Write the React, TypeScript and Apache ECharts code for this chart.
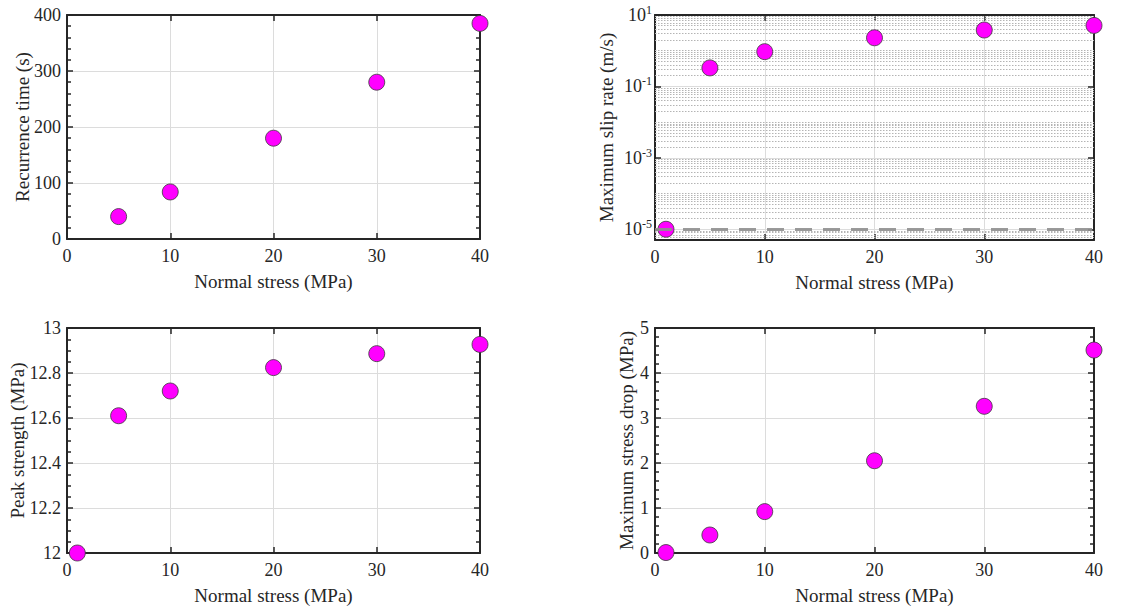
import { useEffect, useRef } from 'react';
import * as echarts from 'echarts';

// ---- data ----
const stressRecurrence = [5, 10, 20, 30, 40];
const recurrenceTime = [40, 84, 180, 280, 385];
const stressAll = [1, 5, 10, 20, 30, 40];
const maxSlipRate = [1e-5, 0.33, 0.94, 2.3, 3.8, 5.1];
const peakStrength = [12.0, 12.61, 12.72, 12.824, 12.886, 12.927];
const maxStressDrop = [0.01, 0.4, 0.92, 2.05, 3.26, 4.51];
const logMajorTicks = [1e-5, 1e-3, 1e-1, 10];
const logDecades = [-6, -5, -4, -3, -2, -1, 0];
const logMantissas = [1, 2, 3, 4, 5, 6, 7, 8, 9];
const backgroundSlipRate = 1e-5;

const FONT = '"Liberation Serif", "Times New Roman", serif';
const AX = '#262626';
const GRIDC = '#dcdcdc';

const LOG_MIN = 5e-6;
const LOG_MAX = 10;

const minorLogValues: number[] = [];
logDecades.forEach((d) => {
  logMantissas.forEach((m) => {
    const v = m * Math.pow(10, d);
    const isMajor = logMajorTicks.some((t) => Math.abs(t - v) / t < 1e-9);
    if (v > LOG_MIN * 1.0001 && v < LOG_MAX * 0.9999 && !isMajor) minorLogValues.push(v);
  });
});

const axisLine = { show: true, onZero: false, lineStyle: { color: AX, width: 2 } };
const axisTick = { show: true, inside: true, length: 6, lineStyle: { color: AX, width: 1.5 } };
const labelStyle = { color: AX, fontFamily: FONT, fontSize: 18 };
const nameStyle = { color: AX, fontFamily: FONT, fontSize: 19 };

function xAxesFor(gridIndex: number) {
  return [
    {
      type: 'value', gridIndex, min: 0, max: 40, interval: 10, position: 'bottom',
      axisLine, axisTick,
      axisLabel: { ...labelStyle, margin: 8 },
      splitLine: { show: true, lineStyle: { color: GRIDC, width: 1 } },
      name: 'Normal stress (MPa)', nameLocation: 'middle', nameGap: 33,
      nameTextStyle: nameStyle, nameMoveOverlap: false,
    },
    {
      type: 'value', gridIndex, min: 0, max: 40, interval: 10, position: 'top',
      axisLine, axisTick, axisLabel: { show: false }, splitLine: { show: false },
    },
  ];
}

function linearYAxes(gridIndex: number, min: number, max: number, interval: number, minorSplit: number, name: string, nameGap: number) {
  const minorTick = { show: true, splitNumber: minorSplit, length: 4, lineStyle: { color: AX, width: 1.5 } };
  return [
    {
      type: 'value', gridIndex, min, max, interval, position: 'left',
      axisLine, axisTick, minorTick,
      axisLabel: { ...labelStyle, margin: 6 },
      splitLine: { show: true, lineStyle: { color: GRIDC, width: 1 } },
      name, nameLocation: 'middle', nameGap, nameTextStyle: nameStyle, nameMoveOverlap: false,
    },
    {
      type: 'value', gridIndex, min, max, interval, position: 'right',
      axisLine, axisTick, minorTick, axisLabel: { show: false }, splitLine: { show: false },
    },
  ];
}

function logYAxes(gridIndex: number, name: string, nameGap: number) {
  const tick = { ...axisTick, customValues: logMajorTicks };
  return [
    {
      type: 'log', logBase: 10, gridIndex, min: LOG_MIN, max: LOG_MAX, position: 'left',
      axisLine, axisTick: tick,
      axisLabel: {
        ...labelStyle, margin: 3, customValues: logMajorTicks,
        formatter: (v: number) => `10{sup|${Math.round(Math.log10(v))}}`,
        rich: { sup: { fontFamily: FONT, fontSize: 12, color: AX, padding: [0, 0, 10, 0] } },
      },
      splitLine: { show: true, lineStyle: { color: GRIDC, width: 1 } },
      name, nameLocation: 'middle', nameGap, nameTextStyle: nameStyle, nameMoveOverlap: false,
    },
    {
      type: 'log', logBase: 10, gridIndex, min: LOG_MIN, max: LOG_MAX, position: 'right',
      axisLine, axisTick: tick, axisLabel: { show: false }, splitLine: { show: false },
    },
  ];
}

function scatter(gridIndex: number, xs: number[], ys: number[]) {
  return {
    type: 'scatter', xAxisIndex: gridIndex * 2, yAxisIndex: gridIndex * 2,
    data: xs.map((x, i) => [x, ys[i]]),
    symbol: 'circle', symbolSize: 16, clip: false, z: 3,
    itemStyle: { color: '#ff00ff', borderColor: '#3a3a3a', borderWidth: 0.8, opacity: 1 },
    emphasis: { disabled: true },
  };
}

export default function App() {
  const ref = useRef<HTMLDivElement>(null);
  useEffect(() => {
    if (!ref.current) return;
    const chart = echarts.init(ref.current, undefined, { renderer: 'svg' });
    const option: any = {
      animation: false,
      backgroundColor: '#ffffff',
      grid: [
        { left: 67, top: 15, width: 413, height: 224, containLabel: false },
        { left: 655, top: 15, width: 439, height: 225, containLabel: false },
        { left: 67, top: 328, width: 413, height: 225, containLabel: false },
        { left: 655, top: 328, width: 439, height: 225, containLabel: false },
      ],
      xAxis: [...xAxesFor(0), ...xAxesFor(1), ...xAxesFor(2), ...xAxesFor(3)],
      yAxis: [
        ...linearYAxes(0, 0, 400, 100, 5, 'Recurrence time (s)', 35),
        ...logYAxes(1, 'Maximum slip rate (m/s)', 39),
        ...linearYAxes(2, 12, 13, 0.2, 4, 'Peak strength (MPa)', 40),
        ...linearYAxes(3, 0, 5, 1, 5, 'Maximum stress drop (MPa)', 19),
      ],
      series: [
        {
          type: 'line', xAxisIndex: 2, yAxisIndex: 2, data: [], z: 1, silent: true,
          markLine: {
            silent: true, symbol: ['none', 'none'], label: { show: false }, precision: 12,
            emphasis: { disabled: true }, z: 1,
            lineStyle: { type: [1.5, 1.5], color: '#b4b4b4', width: 1 },
            data: minorLogValues.map((v) => ({ yAxis: v })),
          },
        },
        scatter(0, stressRecurrence, recurrenceTime),
        scatter(1, stressAll, maxSlipRate),
        scatter(2, stressAll, peakStrength),
        scatter(3, stressAll, maxStressDrop),
        {
          type: 'line', xAxisIndex: 2, yAxisIndex: 2, data: [], z: 12, silent: true,
          markLine: {
            silent: true, symbol: ['none', 'none'], label: { show: false }, precision: 12,
            emphasis: { disabled: true }, z: 12,
            lineStyle: { type: [17, 11], color: '#8f8f8f', width: 3, opacity: 0.9 },
            data: [{ yAxis: backgroundSlipRate }],
          },
        },
      ],
    };
    chart.setOption(option);
    return () => chart.dispose();
  }, []);
  return (
    <div
      ref={ref}
      style={{ position: 'absolute', left: 0, top: 0, width: 1121, height: 613, background: '#fff' }}
    />
  );
}
